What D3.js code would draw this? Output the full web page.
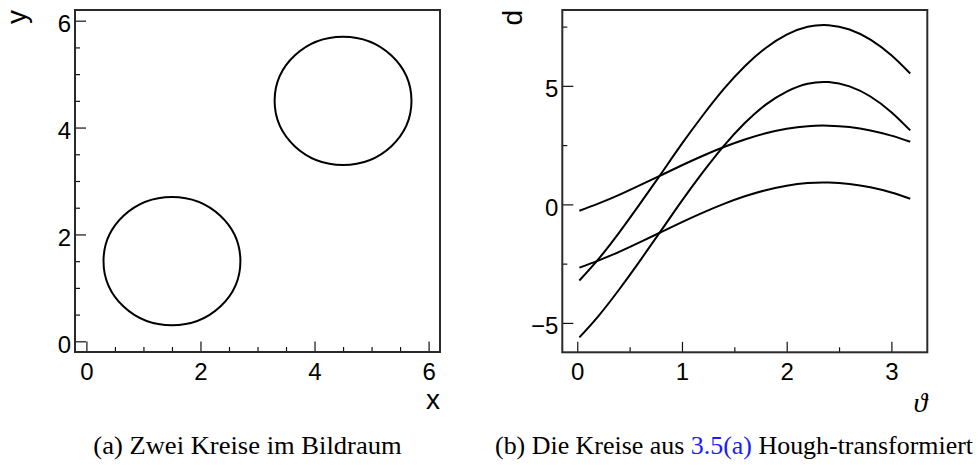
<!DOCTYPE html>
<html>
<head>
<meta charset="utf-8">
<script src="https://cdn.jsdelivr.net/npm/d3@7"></script>
<style>
  html, body { margin: 0; padding: 0; background: #fff; }
  svg { display: block; }
  .tick text { font-family: "Liberation Sans", Arial, Helvetica, sans-serif; font-size: 24px; fill: #000; }
</style>
</head>
<body>
<svg id="chart" width="980" height="465"></svg>
<script>
// Image space: two circles (centre x, centre y, radius)
const circleCx = [1.5, 4.5];
const circleCy = [1.5, 4.5];
const circleR  = [1.2, 1.2];

// Hough space: sampled angles and the four resulting d(θ) curves
const theta = [0.02, 0.2, 0.4, 0.6, 0.8, 1.0, 1.2, 1.4, 1.6, 1.8, 2.0, 2.2, 2.4, 2.6, 2.8, 3.0, 3.18];
const dOuterUpper = [-3.21, -2.32, -1.19, 0.03, 1.29, 2.56, 3.76, 4.87, 5.83, 6.60, 7.16, 7.49, 7.56, 7.38, 6.95, 6.29, 5.52];
const dOuterLower = [-5.61, -4.72, -3.59, -2.37, -1.11, 0.16, 1.36, 2.47, 3.43, 4.21, 4.76, 5.09, 5.16, 4.98, 4.55, 3.89, 3.12];
const dInnerUpper = [-0.27, 0.03, 0.40, 0.81, 1.23, 1.65, 2.05, 2.42, 2.74, 3.00, 3.19, 3.30, 3.32, 3.26, 3.12, 2.90, 2.64];
const dInnerLower = [-2.67, -2.37, -2.00, -1.59, -1.17, -0.75, -0.35, 0.02, 0.34, 0.60, 0.79, 0.90, 0.92, 0.86, 0.72, 0.50, 0.24];

// Axis ticks
const xyMajor = [0, 2, 4, 6];
const xyMinor = [0.5, 1, 1.5, 2.5, 3, 3.5, 4.5, 5, 5.5];
const thetaMajor = [0, 1, 2, 3];
const thetaMinor = [0.5, 1.5, 2.5];
const dMajor = [-5, 0, 5];
const dMinor = [-2.5, 2.5, 7.5];

const captionA = "(a) Zwei Kreise im Bildraum";
const captionB = ["(b) Die Kreise aus ", "3.5(a)", " Hough-transformiert"];

const svg = d3.select("#chart");
const frameColor = "#2a2a2a";

function drawPanel(opts) {
  const g = svg.append("g");
  const x = opts.x, y = opts.y;
  const [x0, x1] = x.range();
  const [y0, y1] = y.range();

  // minor ticks
  g.append("g").attr("transform", `translate(0,${y0})`)
    .call(d3.axisBottom(x).tickValues(opts.xMinor).tickSize(-5).tickSizeOuter(0).tickFormat(""))
    .call(a => a.select(".domain").remove());
  g.append("g").attr("transform", `translate(${x0},0)`)
    .call(d3.axisLeft(y).tickValues(opts.yMinor).tickSize(-5).tickSizeOuter(0).tickFormat(""))
    .call(a => a.select(".domain").remove());

  // major ticks with labels
  g.append("g").attr("transform", `translate(0,${y0})`)
    .call(d3.axisBottom(x).tickValues(opts.xMajor).tickSize(-10.5).tickSizeOuter(0).tickPadding(11).tickFormat(d3.format("d")))
    .call(a => a.select(".domain").remove());
  g.append("g").attr("transform", `translate(${x0},0)`)
    .call(d3.axisLeft(y).tickValues(opts.yMajor).tickSize(-11).tickSizeOuter(0).tickPadding(4).tickFormat(d3.format("d")))
    .call(a => a.select(".domain").remove())
    .call(a => a.selectAll("text").attr("dy", "0.45em"));

  g.selectAll(".tick line").attr("stroke", "#111").attr("stroke-width", 1.2);

  // frame
  g.append("rect")
    .attr("x", x0).attr("y", y1)
    .attr("width", x1 - x0).attr("height", y0 - y1)
    .attr("fill", "none").attr("stroke", frameColor).attr("stroke-width", 2);

  // axis titles
  g.append("text")
    .attr("x", x1).attr("y", opts.xTitleY)
    .attr("text-anchor", "end")
    .attr("font-family", opts.xTitleFont)
    .attr("font-style", opts.xTitleStyle || "normal")
    .attr("font-size", opts.xTitleSize)
    .text(opts.xTitle);
  g.append("text")
    .attr("transform", `translate(${opts.yTitleX},${y1}) rotate(-90)`)
    .attr("text-anchor", "end")
    .attr("font-family", "'Liberation Sans', Arial, sans-serif")
    .attr("font-size", 28)
    .text(opts.yTitle);
  return g;
}

// ---------- left panel: image space ----------
const xL = d3.scaleLinear().domain([-0.2, 6.2]).range([75, 440]);
const yL = d3.scaleLinear().domain([-0.2, 6.2]).range([352, 10]);
const gL = drawPanel({
  x: xL, y: yL,
  xMajor: xyMajor, xMinor: xyMinor, yMajor: xyMajor, yMinor: xyMinor,
  xTitle: "x", xTitleY: 409, xTitleSize: 28,
  xTitleFont: "'Liberation Sans', Arial, sans-serif",
  yTitle: "y", yTitleX: 26
});
gL.append("g").selectAll("ellipse")
  .data(circleCx.map((cx, i) => ({ cx, cy: circleCy[i], r: circleR[i] })))
  .join("ellipse")
  .attr("cx", d => xL(d.cx))
  .attr("cy", d => yL(d.cy))
  .attr("rx", d => xL(d.r) - xL(0))
  .attr("ry", d => yL(0) - yL(d.r))
  .attr("fill", "none").attr("stroke", "#000").attr("stroke-width", 2);

// ---------- right panel: Hough space ----------
const xR = d3.scaleLinear().domain([-0.143, 3.343]).range([562.3, 927.3]);
const yR = d3.scaleLinear().domain([-6.24, 8.2]).range([352.3, 10]);
const gR = drawPanel({
  x: xR, y: yR,
  xMajor: thetaMajor, xMinor: thetaMinor, yMajor: dMajor, yMinor: dMinor,
  xTitle: "\u03D1", xTitleY: 412, xTitleSize: 28,
  xTitleFont: "'Liberation Serif', 'DejaVu Serif', serif", xTitleStyle: "italic",
  yTitle: "d", yTitleX: 521.5
});
const line = d3.line()
  .x((d, i) => xR(theta[i]))
  .y(d => yR(d))
  .curve(d3.curveNatural);
gR.append("g").selectAll("path")
  .data([dOuterUpper, dOuterLower, dInnerUpper, dInnerLower])
  .join("path")
  .attr("d", line)
  .attr("fill", "none").attr("stroke", "#000").attr("stroke-width", 2);

// ---------- captions ----------
svg.append("text")
  .attr("x", 93.3).attr("y", 454.3)
  .attr("font-family", "'Liberation Serif', 'Times New Roman', serif")
  .attr("font-size", 25)
  .attr("textLength", 308.4).attr("lengthAdjust", "spacingAndGlyphs")
  .text(captionA);

const capB = svg.append("text")
  .attr("x", 495).attr("y", 454.3)
  .attr("font-family", "'Liberation Serif', 'Times New Roman', serif")
  .attr("font-size", 25)
  .attr("textLength", 478).attr("lengthAdjust", "spacingAndGlyphs");
capB.selectAll("tspan")
  .data(captionB)
  .join("tspan")
  .attr("fill", (d, i) => i === 1 ? "#1a1aff" : "#000")
  .text(d => d);
</script>
</body>
</html>
